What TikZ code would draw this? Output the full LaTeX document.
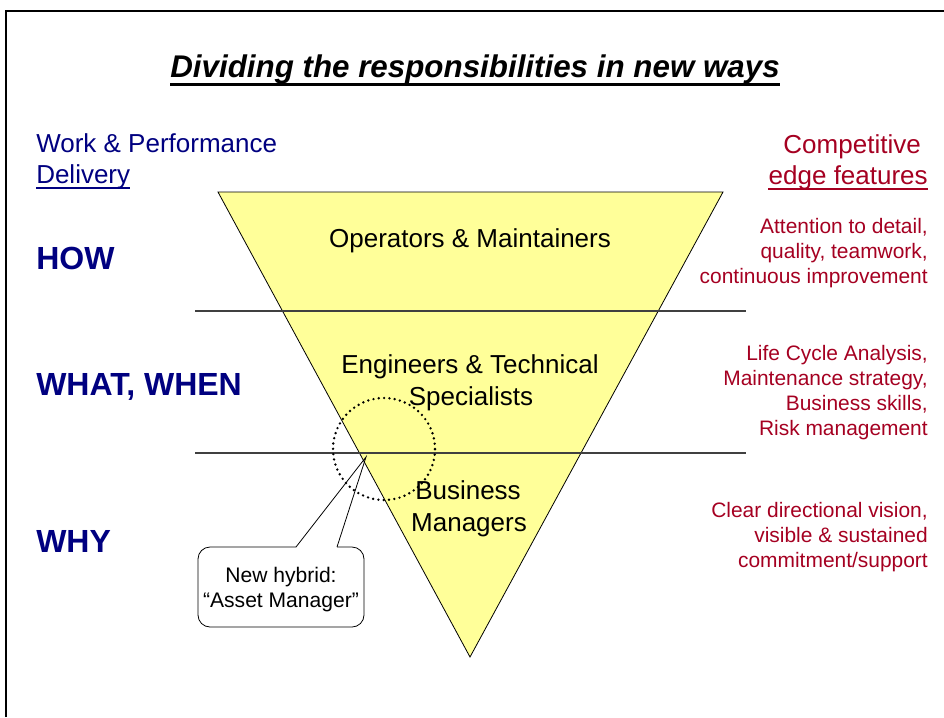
\documentclass[tikz,border=0pt]{standalone}
\usepackage{fontspec}
\setmainfont{Liberation Sans}
\definecolor{navy}{RGB}{0,0,128}
\definecolor{crim}{RGB}{165,0,33}
\definecolor{tyellow}{RGB}{255,255,153}
\begin{document}
\begin{tikzpicture}[x=0.75pt,y=-0.75pt,
  mid/.style={inner sep=0pt, font=\fontsize{19.5}{23}\selectfont},
  big/.style={inner sep=0pt, text=navy, anchor=base west, font=\fontsize{24}{28}\selectfont\bfseries},
  feat/.style={inner sep=0pt, text=crim, anchor=base east, font=\fontsize{15.7}{19}\selectfont},
  small/.style={inner sep=0pt, anchor=base, font=\fontsize{15.8}{19}\selectfont},
  divline/.style={line width=0.8pt, draw=black!75},
  dots/.style={line width=2pt, dash pattern=on 0pt off 4pt, line cap=round}]
\useasboundingbox (0,0) rectangle (944,717);
% frame
\coordinate (fb) at (6,717);
\coordinate (fc) at (6,11);
\coordinate (fr) at (944,11);
\draw[line width=1.6pt] (fb) -- (fc) -- (fr);
% title
\node[anchor=base, inner sep=0pt, font=\fontsize{23.5}{28}\selectfont\bfseries\itshape] (title) at (475,78) {Dividing the responsibilities in new ways};
\draw[line width=2.5pt] ([yshift=-5pt]title.base west) -- ([yshift=-5pt]title.base east);
% left header
\node[mid, text=navy, anchor=base west] (wp1) at (36,152) {Work \& Performance};
\node[mid, text=navy, anchor=base west] (wp2) at (36,183) {Delivery};
\draw[line width=1.5pt, navy] ([yshift=-4pt]wp2.base west) -- ([yshift=-4pt]wp2.base east);
% right header
\node[mid, text=crim, anchor=base east] (ce1) at (921,153) {Competitive};
\node[mid, text=crim, anchor=base east] (ce2) at (928,184) {edge features};
\draw[line width=1.5pt, crim] ([yshift=-4pt]ce2.base west) -- ([yshift=-4pt]ce2.base east);
% triangle
\coordinate (tl) at (218,192);
\coordinate (tr) at (723,192);
\coordinate (ap) at (470,657);
\draw[fill=tyellow, line width=0.6pt] (tl) -- (tr) -- (ap) -- cycle;
% dividing lines
\coordinate (h1l) at (195,311);
\coordinate (h1r) at (746,311);
\coordinate (h2l) at (195,453);
\coordinate (h2r) at (746,453);
\draw[divline] (h1l) -- (h1r);
\draw[divline] (h2l) -- (h2r);
% level labels
\node[big] (how) at (36,269) {HOW};
\node[big] (what) at (36,395) {WHAT, WHEN};
\node[big] (why) at (36,552) {WHY};
% triangle labels
\node[mid, anchor=base] (op) at (470,247) {Operators \& Maintainers};
\node[mid, anchor=base] (en1) at (470,373) {Engineers \& Technical};
\node[mid, anchor=base] (en2) at (471,405) {Specialists};
\node[mid, anchor=base] (bm1) at (468,499) {Business};
\node[mid, anchor=base] (bm2) at (469,531) {Managers};
% features
\node[feat] (f1) at (928,233) {Attention to detail,};
\node[feat] (f2) at (928,258) {quality, teamwork,};
\node[feat] (f3) at (928,283) {continuous improvement};
\node[feat] (f4) at (928,360) {Life Cycle Analysis,};
\node[feat] (f5) at (928,385) {Maintenance strategy,};
\node[feat] (f6) at (928,410) {Business skills,};
\node[feat] (f7) at (928,435) {Risk management};
\node[feat] (f8) at (928,517) {Clear directional vision,};
\node[feat] (f9) at (928,542) {visible \& sustained};
\node[feat] (f10) at (928,567) {commitment/support};
% dotted circle
\node[draw, circle, dots, minimum size=76.5pt, inner sep=0pt] (hybrid) at (384,449) {};
% callout
\coordinate (tip) at (366,457);
\coordinate (pl) at (296,547);
\coordinate (pr) at (337,547);
\coordinate (c1) at (364,547);
\coordinate (c2) at (364,627);
\coordinate (c3) at (198,627);
\coordinate (c4) at (198,547);
\draw[line width=0.6pt, rounded corners=9pt] (pr) -- (c1) -- (c2) -- (c3) -- (c4) -- (pl);
\draw[line width=0.6pt] (pl) -- (tip) -- (pr);
\node[small] (cb1) at (281,582) {New hybrid:};
\node[small] (cb2) at (281,607) {``Asset Manager''};
\end{tikzpicture}
\end{document}
